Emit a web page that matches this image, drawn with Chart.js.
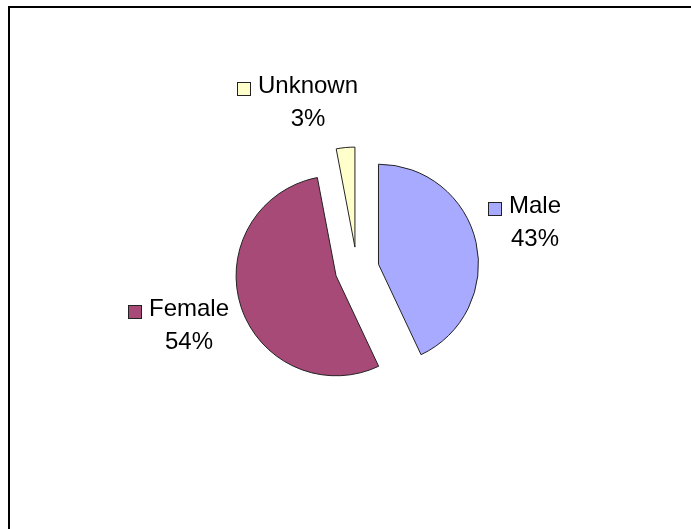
<!DOCTYPE html>
<html>
<head>
<meta charset="utf-8">
<script src="https://cdn.jsdelivr.net/npm/chart.js@4.4.0/dist/chart.umd.min.js"></script>
<style>
  html, body { margin: 0; padding: 0; background: #fff; overflow: hidden; }
  #frame { position: absolute; left: 8px; top: 6px; width: 720px; height: 560px;
           border-top: 2px solid #000; border-left: 2px solid #000; }
  #wrap { position: absolute; left: 0; top: 0; width: 691px; height: 529px; }
</style>
</head>
<body>
<div id="frame"></div>
<div id="wrap"><canvas id="genderPie"></canvas></div>
<script>
const categories = ['Male', 'Female', 'Unknown'];
const shares = [43, 54, 3];
const sliceColors = ['#a8aaff', '#a84a78', '#ffffcc'];

// label block position from the pie centre: [text centre x, first line y]
const labelSpots = [[178, -63], [-168, 40], [-49, -183]];
const explode = 22;   // every slice is pulled out this far, px
const lineGap = 33;
const keySize = 14;

const total = shares.reduce((a, b) => a + b, 0);

// pull each slice out along its middle angle; the built-in `offset`
// also grows the radius and trims the angle, so move the arcs here instead
const explodeSlices = {
  id: 'explodeSlices',
  beforeDatasetDraw(chart, args) {
    const ctx = chart.ctx;
    args.meta.data.forEach(arc => {
      const mid = (arc.startAngle + arc.endAngle) / 2;
      ctx.save();
      ctx.translate(Math.cos(mid) * explode, Math.sin(mid) * explode);
      arc.draw(ctx, chart.chartArea);
      ctx.restore();
    });
    return false;
  }
};

const sliceLabels = {
  id: 'sliceLabels',
  afterDatasetsDraw(chart) {
    const ctx = chart.ctx;
    const meta = chart.getDatasetMeta(0);
    ctx.save();
    ctx.font = '24px "Liberation Sans", Arial, sans-serif';
    ctx.textAlign = 'center';
    ctx.textBaseline = 'middle';
    meta.data.forEach((arc, i) => {
      const x = arc.x + labelSpots[i][0];
      const y = arc.y + labelSpots[i][1];
      const name = chart.data.labels[i];
      const pct = Math.round(shares[i] / total * 100) + '%';
      ctx.fillStyle = '#000';
      ctx.fillText(name, x, y);
      ctx.fillText(pct, x, y + lineGap);
      // legend key in front of the name
      const w = ctx.measureText(name).width;
      const kx = Math.round(x - w / 2 - 7 - keySize);
      const ky = Math.round(y - keySize / 2 + 3);
      ctx.fillStyle = sliceColors[i];
      ctx.fillRect(kx, ky, keySize, keySize);
      ctx.strokeStyle = '#222';
      ctx.lineWidth = 1;
      ctx.strokeRect(kx + 0.5, ky + 0.5, keySize - 1, keySize - 1);
    });
    ctx.restore();
  }
};

new Chart(document.getElementById('genderPie'), {
  type: 'pie',
  data: {
    labels: categories,
    datasets: [{
      data: shares,
      backgroundColor: sliceColors,
      borderColor: '#222',
      borderWidth: 1
    }]
  },
  options: {
    responsive: true,
    maintainAspectRatio: false,
    animation: false,
    radius: 100,
    layout: { padding: { left: 247, right: 224, top: 159, bottom: 150 } },
    plugins: {
      legend: { display: false },
      tooltip: { enabled: false }
    }
  },
  plugins: [explodeSlices, sliceLabels]
});
</script>
</body>
</html>
